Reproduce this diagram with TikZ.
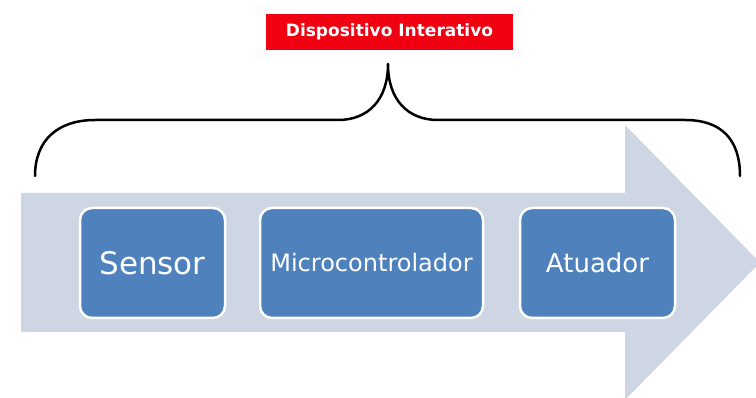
\documentclass[tikz,border=0pt]{standalone}
\usepackage{fontspec}
\setmainfont{DejaVu Sans}
\definecolor{arrowfill}{RGB}{206,214,228}
\definecolor{boxfill}{RGB}{79,129,189}
\definecolor{labelred}{RGB}{240,0,16}
\tikzset{
  stagebox/.style={draw=white, line width=2.5pt, fill=boxfill, rounded corners=12pt,
    minimum height=110pt, inner sep=0pt, text=white, font=\fontsize{24}{28}\selectfont},
  titlebox/.style={fill=labelred, text=white, minimum width=247pt, minimum height=36pt,
    inner sep=0pt, font=\bfseries\fontsize{17}{20}\selectfont},
  bracestyle/.style={line width=2.5pt, line cap=round, line join=round}
}
\begin{document}
\begin{tikzpicture}[x=1pt,y=-1pt]
\useasboundingbox[fill=white] (0,0) rectangle (756,398);
% big arrow
\fill[arrowfill] (21,193) -- (625,193) -- (625,125) -- (760,262.5) -- (625,400) -- (625,332) -- (21,332) -- cycle;
% boxes
\node[stagebox, minimum width=145pt, font=\fontsize{31}{34}\selectfont] (s) at (152.5,263) {Sensor};
\node[stagebox, minimum width=223pt, font=\fontsize{24}{28}\selectfont] (m) at (371.5,263) {Microcontrolador};
\node[stagebox, minimum width=155pt, font=\fontsize{26}{30}\selectfont] (a) at (597.5,263) {Atuador};
% title
\node[titlebox] (t) at (389.5,32) {Dispositivo Interativo};
% brace
\coordinate (bl) at (35,176);
\coordinate (bc) at (388,64);
\coordinate (br) at (740,176);
\draw[bracestyle] (bl) .. controls (35,140) and (58,120) .. (95,120) -- (338,120)
  .. controls (368,120) and (388,100) .. (bc)
  .. controls (388,100) and (408,120) .. (438,120) -- (685,120)
  .. controls (722,120) and (740,140) .. (br);
\end{tikzpicture}
\end{document}
